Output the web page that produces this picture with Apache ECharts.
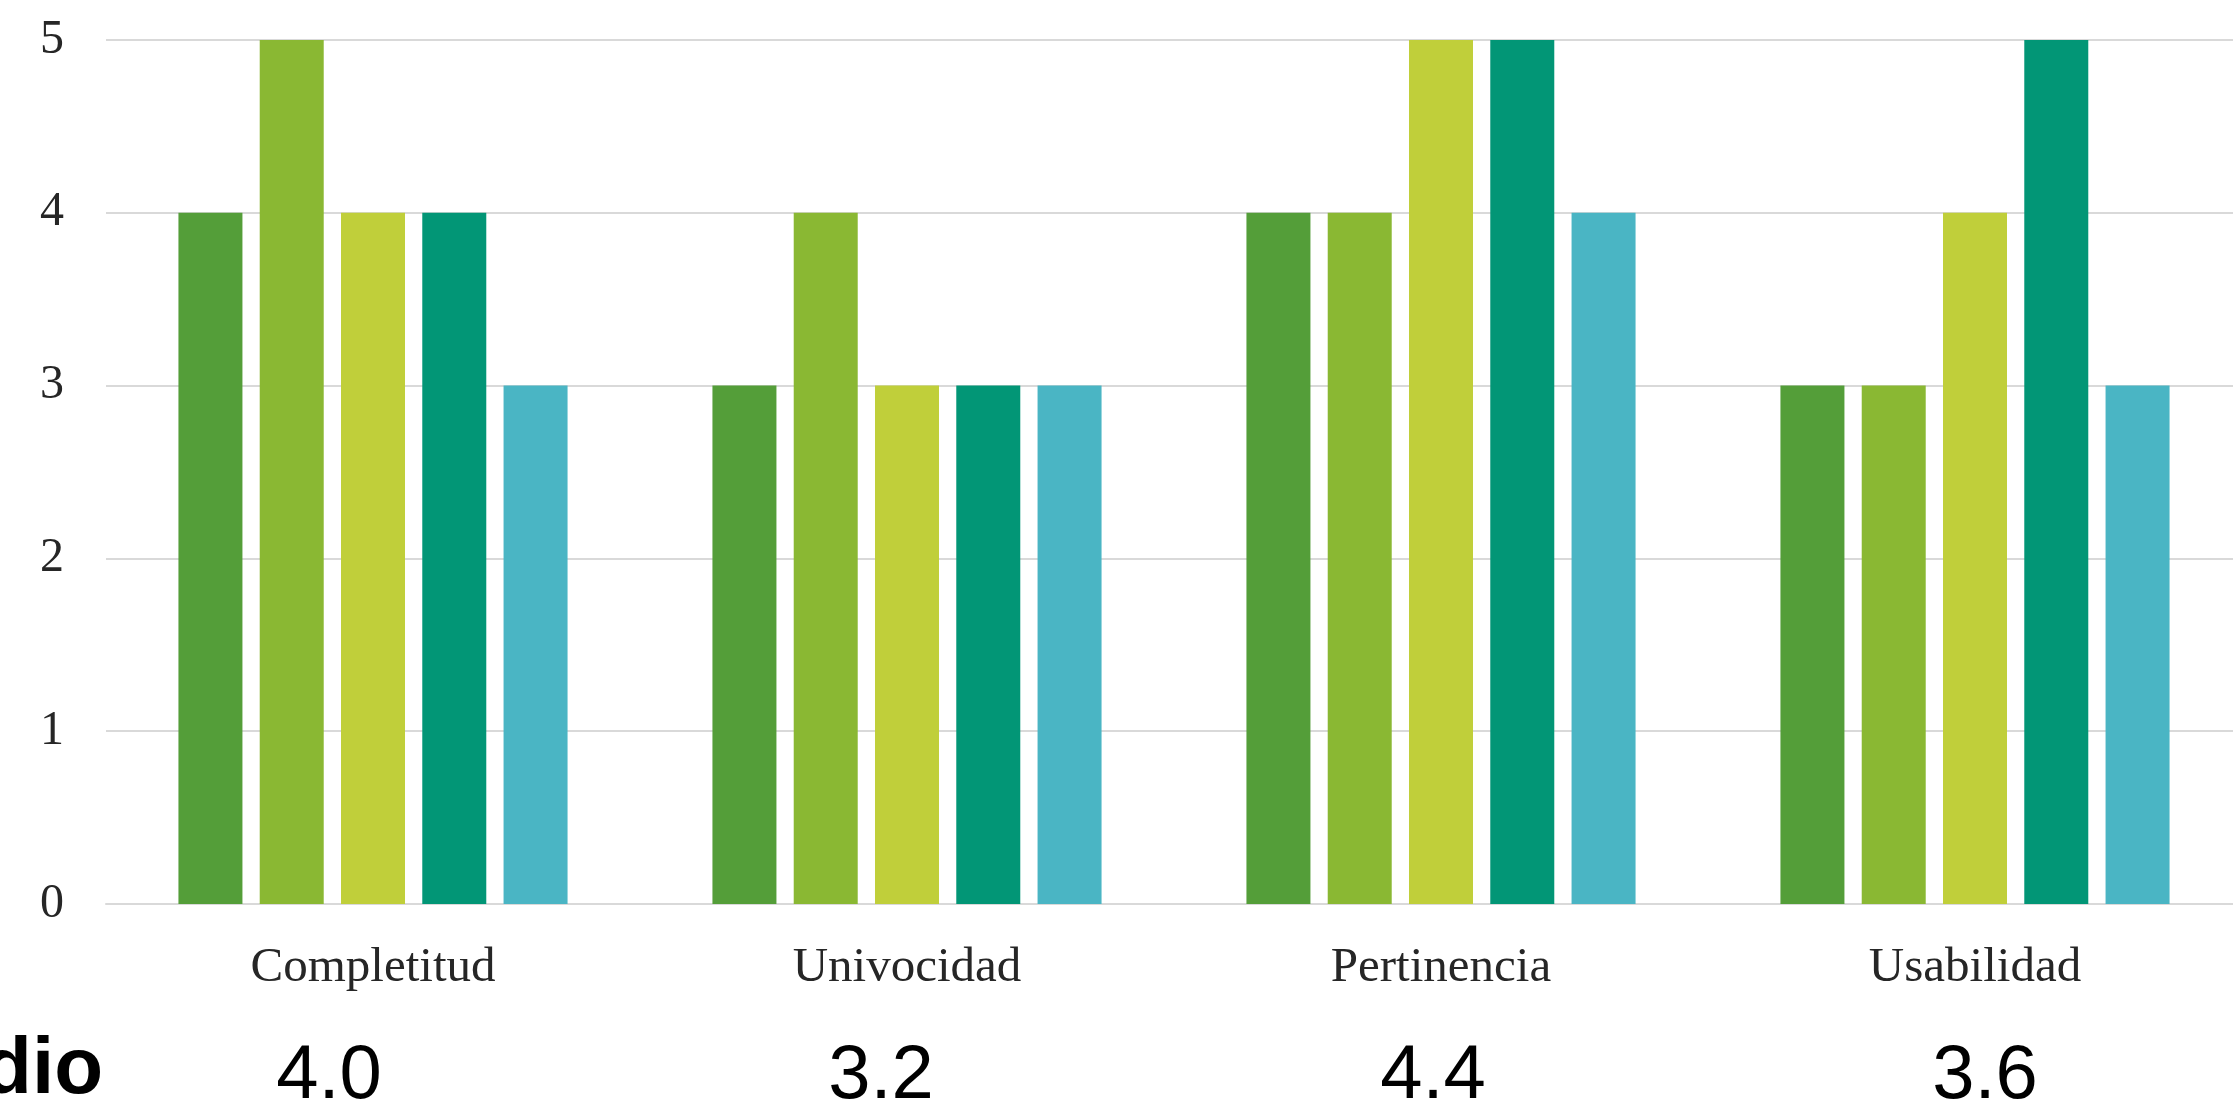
<!DOCTYPE html>
<html>
<head>
<meta charset="utf-8">
<style>html,body{margin:0;padding:0;background:#fff;}#c{width:2233px;height:1103px;}</style>
<script src="https://cdn.jsdelivr.net/npm/echarts@6/dist/echarts.min.js"></script>
</head>
<body>
<div id="c"></div>
<script>
const categories = ['Completitud', 'Univocidad', 'Pertinencia', 'Usabilidad'];
const serie1 = [4, 3, 4, 3];
const serie2 = [5, 4, 4, 3];
const serie3 = [4, 3, 5, 4];
const serie4 = [4, 3, 5, 5];
const serie5 = [3, 3, 4, 3];
const averages = ['4.0', '3.2', '4.4', '3.6'];
const yTicks = [0, 1, 2, 3, 4, 5];
const colors = ['#549e39', '#8ab833', '#c0cf3a', '#029676', '#4ab5c4'];
const seriesData = [serie1, serie2, serie3, serie4, serie5];
const seriesNames = ['Serie 1', 'Serie 2', 'Serie 3', 'Serie 4', 'Serie 5'];

const chart = echarts.init(document.getElementById('c'));
chart.setOption({
  animation: false,
  backgroundColor: '#ffffff',
  grid: [
    { left: 106, width: 2136, top: 40, bottom: 199, outerBoundsMode: 'none' },
    { left: 53, width: 2208, top: 40, bottom: 199, outerBoundsMode: 'none' }
  ],
  xAxis: [
    {
      type: 'category',
      gridIndex: 0,
      data: categories,
      axisLine: { show: true, lineStyle: { color: '#d9d9d9', width: 2 } },
      axisTick: { show: false },
      axisLabel: { margin: 40, fontFamily: 'Liberation Serif', fontSize: 49, color: '#262626' }
    },
    {
      type: 'category',
      gridIndex: 1,
      data: averages,
      position: 'bottom',
      axisLine: { show: false },
      axisTick: { show: false },
      axisLabel: { margin: 135, fontFamily: 'Liberation Sans', fontSize: 76, color: '#000000' }
    }
  ],
  yAxis: [
    {
      type: 'value',
      gridIndex: 0,
      min: yTicks[0],
      max: yTicks[yTicks.length - 1],
      interval: 1,
      axisLine: { show: false },
      axisTick: { show: false },
      splitLine: { lineStyle: { color: '#d9d9d9', width: 2 } },
      axisLabel: { margin: 42, fontFamily: 'Liberation Serif', fontSize: 48, color: '#262626' }
    },
    {
      type: 'value',
      gridIndex: 1,
      show: false,
      splitLine: { show: false }
    }
  ],
  graphic: [
    {
      type: 'text',
      x: 103,
      y: 1071,
      style: { text: 'Promedio', font: 'bold 80px "Liberation Sans"', fill: '#000000', align: 'right', verticalAlign: 'middle' }
    }
  ],
  series: seriesData.map((d, i) => ({
    name: seriesNames[i],
    type: 'bar',
    xAxisIndex: 0,
    yAxisIndex: 0,
    data: d,
    barWidth: 64,
    barGap: '27%',
    itemStyle: { color: colors[i] }
  }))
});
</script>
</body>
</html>
